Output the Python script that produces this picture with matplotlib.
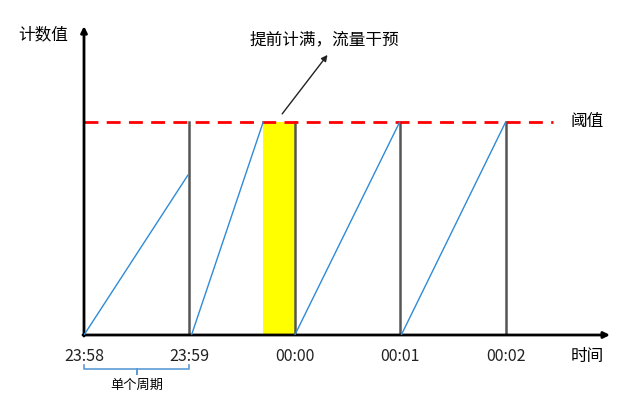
import numpy as np
import matplotlib
matplotlib.use('Agg')
import matplotlib.pyplot as plt

plt.rcParams['font.family'] = ['Noto Sans CJK SC', 'DejaVu Sans']

# --- dati ---
tick_pos = [0, 1, 2, 3, 4]
tick_labels = ['23:58', '23:59', '00:00', '00:01', '00:02']
threshold = 100
ramp_start_x = [0.0, 1.02, 2.0, 3.01]
ramp_end_x = [0.985, 1.70, 2.995, 4.0]
ramp_end_y = [75, 100, 100, 100]
reset_x = [1, 2, 3, 4]
early_full = (1.70, 2.0)

fig = plt.figure(figsize=(6.38, 4.09), dpi=100)
ax = fig.add_axes([84 / 638, 74 / 409, (610 - 84) / 638, (335 - 24) / 409])
ax.set_xlim(0, 4.99)
ax.set_ylim(0, 146)
ax.axis('off')

# zona gialla
ax.axvspan(early_full[0], early_full[1], ymin=0, ymax=threshold / 146,
           color='#FFFF00', lw=0, zorder=1)

# linea di soglia
ax.plot([0, 4.45], [threshold, threshold], color='#FF0000', lw=2,
        dashes=(5, 3), zorder=3)

# rampe del contatore
for x0, x1, y1 in zip(ramp_start_x, ramp_end_x, ramp_end_y):
    ax.plot([x0, x1], [0, y1], color='#2E8BD8', lw=1, zorder=4)

# reset verticali
for x in reset_x:
    ax.plot([x, x], [0, threshold], color='#555555', lw=1.8, zorder=2)

# assi con frecce
ax.annotate('', xy=(0, 145), xytext=(0, -0.5),
            arrowprops=dict(arrowstyle='-|>', color='black', lw=2,
                            mutation_scale=9, shrinkA=0, shrinkB=0))
ax.annotate('', xy=(4.99, 0), xytext=(-0.01, 0),
            arrowprops=dict(arrowstyle='-|>', color='black', lw=2,
                            mutation_scale=9, shrinkA=0, shrinkB=0))

# etichette tick
for x, lab in zip(tick_pos, tick_labels):
    ax.text(x, -10.3, lab, ha='center', va='center', fontsize=11.5,
            color='#222222', clip_on=False)

# parentesi "单个周期"
bx = [0.0, 0.0, 0.5, 0.5, 0.5, 1.0, 1.0]
by = [-14, -15.8, -15.8, -18.5, -15.8, -15.8, -14]
ax.plot(bx, by, color='#5B9BD5', lw=1.2, clip_on=False)
ax.text(0.5, -23.5, '单个周期', ha='center', va='center', fontsize=9.5,
        clip_on=False)

# testi
ax.text(-0.39, 141, '计数值', ha='center', va='center', fontsize=12,
        clip_on=False)
ax.text(4.77, threshold, '阈值', ha='center', va='center', fontsize=12,
        clip_on=False)
ax.text(4.77, -10.3, '时间', ha='center', va='center', fontsize=12,
        clip_on=False)

# annotazione
ax.annotate('', xy=(2.31, 131.5), xytext=(1.88, 103.8),
            arrowprops=dict(arrowstyle='-|>', color='#222222', lw=1,
                            mutation_scale=9, shrinkA=0, shrinkB=0))
ax.text(2.28, 138.5, '提前计满，流量干预', ha='center', va='center',
        fontsize=12, clip_on=False)

fig.savefig('out.png', dpi=100)
